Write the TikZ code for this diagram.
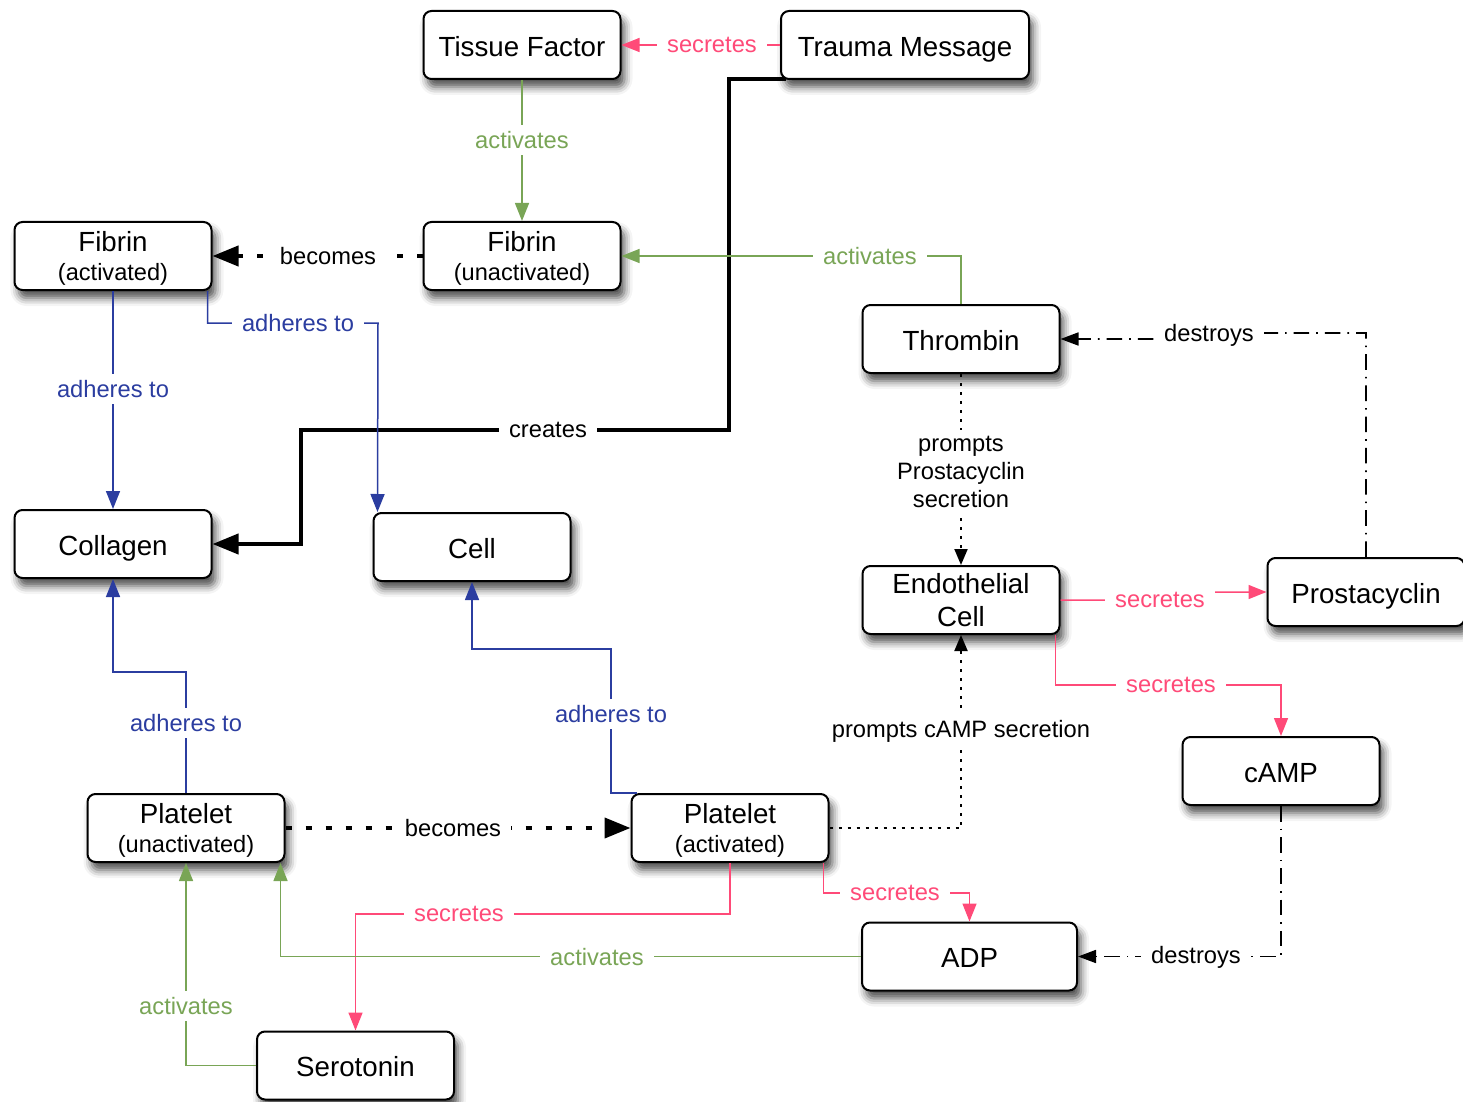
\documentclass[tikz,border=0pt]{standalone}
\usepackage{fontspec}
\setmainfont{Liberation Sans}
\usetikzlibrary{arrows.meta,shadows.blur}
\definecolor{cpink}{HTML}{FF4A78}
\definecolor{cgreen}{HTML}{79A556}
\definecolor{cblue}{HTML}{2B3DA0}
\newcommand\mfs{\fontsize{13.85}{16.5}\selectfont}
\newcommand\sfs{\fontsize{11.8}{14}\selectfont}
\newcommand\lfs{\fontsize{11.85}{14}\selectfont}
\begin{document}
\begin{tikzpicture}[x=0.5pt,y=-0.5pt,
  box/.style={draw, line width=1pt, rounded corners=4pt, fill=white,
    minimum width=98.5pt, minimum height=34pt, inner sep=0pt, align=center, font=\mfs,
    blur shadow={shadow xshift=2pt, shadow yshift=-4pt, shadow blur radius=4pt, shadow opacity=70}},
  sl/.style={box, text height=11.3pt, text depth=0pt},
  tl/.style={box, text depth=-2.5pt},
  lbl/.style={fill=white, inner xsep=5pt, inner ysep=3pt, font=\lfs, align=center},
  conn/.style={line width=0.75pt, -{Triangle[length=9pt,width=7pt]}},
  pinkc/.style={conn, draw=cpink},
  greenc/.style={conn, draw=cgreen},
  bluec/.style={conn, draw=cblue},
  becomesc/.style={line width=2pt, dash pattern=on 3pt off 7pt, -{Triangle[length=13pt,width=10pt]}},
  dotc/.style={line width=1pt, dash pattern=on 1.5pt off 3pt, -{Triangle[length=8pt,width=6.5pt]}},
  ddotc/.style={line width=0.85pt, dash pattern=on 7.8pt off 3.5pt on 0.8pt off 3.5pt, -{Triangle[length=9pt,width=6.5pt]}},
  thickc/.style={line width=2pt, -{Triangle[length=13pt,width=10pt]}},
]
\useasboundingbox (0,0) rectangle (1463,1102);

% nodes
\node[sl] (TF) at (522,45) {Tissue Factor};
\node[sl, minimum width=124pt] (TM) at (905,45) {Trauma Message};
\node[tl] (FU) at (522,256) {Fibrin\\[-2pt]\sfs (unactivated)};
\node[tl] (FA) at (113,256) {Fibrin\\[-2pt]\sfs (activated)};
\node[sl] (Th) at (961,339) {Thrombin};
\node[sl] (Col) at (113,544) {Collagen};
\node[sl] (Cell) at (472,547) {Cell};
\node[box] (EC) at (961,600) {Endothelial\\Cell};
\node[sl] (Pc) at (1366,592) {Prostacyclin};
\node[sl] (cAMP) at (1281,771) {cAMP};
\node[tl] (PU) at (186,828) {Platelet\\[-2pt]\sfs (unactivated)};
\node[tl] (PA) at (730,828) {Platelet\\[-2pt]\sfs (activated)};
\node[sl, minimum width=107.5pt] (ADP) at (969.5,956.5) {ADP};
\node[sl] (Ser) at (355.5,1065.5) {Serotonin};

% helper coordinates
\coordinate (tmS) at ([shift={(6,-1)}]TM.south west);
\coordinate (faS) at ([shift={(-5,0)}]FA.south east);
\coordinate (cellN) at ([shift={(5,0)}]Cell.north west);
\coordinate (ecS) at ([shift={(-5,0)}]EC.south east);
\coordinate (paN) at ([shift={(6,0)}]PA.north west);
\coordinate (paS) at ([shift={(-6,0)}]PA.south east);
\coordinate (puS) at ([shift={(-5,0)}]PU.south east);

% connectors
\draw[thickc] (tmS) -| (729,430) -| (301,544) -- (Col.east);
\draw[pinkc] (TM.west) -- (TF.east);
\draw[greenc] (TF.south) -- (FU.north);
\draw[becomesc] (FU.west) -- (FA.east);
\draw[greenc] (Th.north) |- (FU.east);
\draw[bluec] (FA.south) -- (Col.north);
\draw[bluec] (faS) |- (378,323) -- (cellN);
\draw[dotc] (Th.south) -- (EC.north);
\draw[ddotc] (Pc.north) |- (1258,333) -- (1160,339) -- (Th.east);
\draw[pinkc] (EC.east) -- (1112,600) -- (1208,592) -- (Pc.west);
\draw[pinkc] (ecS) |- (1281,685) -- (cAMP.north);
\draw[ddotc] (cAMP.south) |- (ADP.east);
\draw[dotc] (PA.east) -| (EC.south);
\draw[becomesc] (PU.east) -- (PA.west);
\draw[bluec] (PU.north) |- (113,672) -- (Col.south);
\draw[bluec] (paN) -| (611,649) -| (Cell.south);
\draw[pinkc] (paS) |- (969.5,893) -- (ADP.north);
\draw[pinkc] (PA.south) |- (355.5,914) -- (Ser.north);
\draw[greenc] (ADP.west) -| (puS);
\draw[greenc] (Ser.west) -| (PU.south);

% labels
\node[lbl, text=cpink] (l1) at (712,45) {secretes};
\node[lbl, text=cgreen] (l2) at (522,140) {activates};
\node[lbl] (l3) at (328,256) {becomes};
\node[lbl, text=cgreen] (l4) at (870,256) {activates};
\node[lbl, text=cblue] (l5) at (113,389) {adheres to};
\node[lbl, text=cblue] (l6) at (298,323) {adheres to};
\node[lbl] (l7) at (548,430) {creates};
\node[lbl] (l8) at (1209,335) {destroys};
\node[lbl] (l9) at (961,472) {prompts\\Prostacyclin\\secretion};
\node[lbl, text=cpink] (l10) at (1160,600) {secretes};
\node[lbl, text=cpink] (l11) at (1171,685) {secretes};
\node[lbl, text=cblue] (l12) at (186,723) {adheres to};
\node[lbl, text=cblue] (l13) at (611,714) {adheres to};
\node[lbl] (l14) at (961,731) {prompts cAMP secretion};
\node[lbl] (l15) at (453,828) {becomes};
\node[lbl, text=cpink] (l16) at (895,893) {secretes};
\node[lbl, text=cpink] (l17) at (459,914) {secretes};
\node[lbl, text=cgreen] (l18) at (597,957) {activates};
\node[lbl] (l19) at (1196,957) {destroys};
\node[lbl, text=cgreen] (l20) at (186,1006) {activates};
\end{tikzpicture}
\end{document}
